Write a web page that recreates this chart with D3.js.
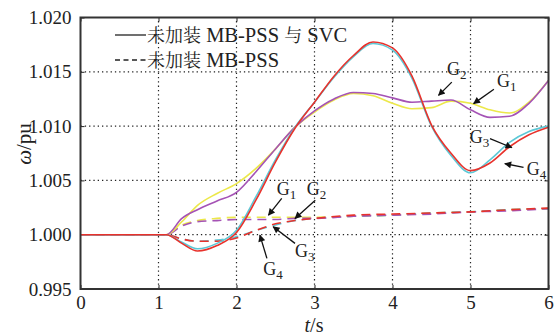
<!DOCTYPE html>
<html>
<head>
<meta charset="utf-8">
<script src="https://cdn.jsdelivr.net/npm/d3@7"></script>
<style>
  html, body { margin: 0; padding: 0; background: #fff; }
  svg { display: block; }
  svg text { font-family: "Liberation Serif", "DejaVu Serif", serif; }
</style>
</head>
<body>
<svg id="chart" width="554" height="335"></svg>
<script>
// ---------------- data ----------------
const xTicks = [0, 1, 2, 3, 4, 5, 6];
const yTicks = [0.995, 1.000, 1.005, 1.010, 1.015, 1.020];

// with MB-PSS and SVC (solid)
const tSolid = [0, 1, 1.1, 1.3, 1.5, 1.75, 2, 2.25, 2.5, 2.75, 3, 3.25, 3.5, 3.75, 4, 4.25, 4.5, 4.75, 5, 5.25, 5.5, 5.75, 6];
const g1Solid = [1, 1, 1, 1.0012, 1.0027, 1.0038, 1.0047, 1.0061, 1.0079, 1.0099, 1.0113, 1.0124, 1.0130, 1.0128, 1.0121, 1.0116, 1.0117, 1.0123, 1.0121, 1.0115, 1.0112, 1.0122, 1.0142];
const g2Solid = [1, 1, 1, 1.0015, 1.0023, 1.0031, 1.0039, 1.0058, 1.0079, 1.0099, 1.0114, 1.0125, 1.0131, 1.0130, 1.0126, 1.0122, 1.0123, 1.0124, 1.0115, 1.0108, 1.0109, 1.0121, 1.0142];
const g3Solid = [1, 1, 1, 0.9993, 0.9987, 0.9992, 1.0004, 1.0035, 1.0069, 1.0099, 1.0122, 1.0145, 1.0164, 1.0176, 1.0170, 1.0144, 1.0100, 1.0073, 1.0057, 1.0069, 1.0085, 1.0095, 1.0100];
const g4Solid = [1, 1, 1, 0.9992, 0.9985, 0.9990, 1.0002, 1.0032, 1.0067, 1.0098, 1.0122, 1.0146, 1.0165, 1.01775, 1.0172, 1.0146, 1.0101, 1.0075, 1.0059, 1.0066, 1.0081, 1.0092, 1.0099];

// with MB-PSS only (dashed)
const tDashed = [0, 1, 1.1, 1.3, 1.5, 1.75, 2, 2.25, 2.5, 2.75, 3, 3.5, 4, 4.5, 5, 5.5, 6];
const g1Dashed = [1, 1, 1, 1.0009, 1.0013, 1.0015, 1.0016, 1.0016, 1.0016, 1.0016, 1.0016, 1.0017, 1.0018, 1.0020, 1.0021, 1.0023, 1.0024];
const g2Dashed = [1, 1, 1, 1.0008, 1.0012, 1.0013, 1.0014, 1.0014, 1.0014, 1.0015, 1.0015, 1.0017, 1.0018, 1.0019, 1.0021, 1.0022, 1.0024];
const g3Dashed = [1, 1, 1, 0.9996, 0.9994, 0.9995, 0.9998, 1.0004, 1.0009, 1.0013, 1.0015, 1.0017, 1.0018, 1.0020, 1.0021, 1.0023, 1.0024];
const g4Dashed = [1, 1, 1, 0.9996, 0.9994, 0.9994, 0.9997, 1.0004, 1.0010, 1.0013, 1.0015, 1.0018, 1.0019, 1.0020, 1.0021, 1.0023, 1.00245];

const seriesNames = ["G1", "G2", "G3", "G4"];
const legendLabels = ["未加装 MB-PSS 与 SVC", "未加装 MB-PSS"];

// annotation labels (generator, label position, arrow tail, arrow head) in data units
const annoGen = ["1", "2", "3", "4", "1", "2", "3", "4"];
const annoLabel = [[5.34, 1.01359], [4.70, 1.01467], [4.99, 1.00842], [5.72, 1.00548],
                   [2.515, 1.00364], [2.90, 1.00364], [2.75, 0.99797], [2.344, 0.99629]];
const annoTail = [[5.30, 1.01340], [4.76, 1.01405], [5.25, 1.00885], [5.68, 1.00619],
                  [2.58, 1.00334], [3.01, 1.00318], [2.75, 0.99920], [2.39, 0.99782]];
const annoHead = [[5.04, 1.01207], [4.59, 1.01283], [5.53, 1.00802], [5.44, 1.00655],
                  [2.41, 1.00180], [2.75, 1.00150], [2.47, 1.00073], [2.30, 0.99996]];

// ---------------- drawing ----------------
const colors = { G1: "#ece84a", G2: "#a553b5", G3: "#5cc8d6", G4: "#e8322c" };
const serif = '"Liberation Serif", "DejaVu Serif", serif';
const cjk = '"Noto Serif CJK SC", "Noto Sans CJK SC", serif';

const svg = d3.select("#chart");
const x = d3.scaleLinear().domain([0, 6]).range([80.5, 548.5]);
const y = d3.scaleLinear().domain([0.995, 1.020]).range([289, 17.5]);

// grid
const grid = svg.append("g").attr("stroke", "#222").attr("stroke-width", 1.2).attr("stroke-dasharray", "1.3,3");
xTicks.slice(1, -1).forEach(t => grid.append("line").attr("x1", x(t)).attr("x2", x(t)).attr("y1", y(0.995)).attr("y2", y(1.020)));
yTicks.slice(1, -1).forEach(v => grid.append("line").attr("x1", x(0)).attr("x2", x(6)).attr("y1", y(v)).attr("y2", y(v)));

// axes
const fmt = d3.format(".3f");
const ax = svg.append("g").attr("transform", `translate(0,${y(0.995)})`)
  .call(d3.axisBottom(x).tickValues(xTicks).tickSize(-4).tickPadding(7).tickFormat(d3.format("d")));
const axTop = svg.append("g").attr("transform", `translate(0,${y(1.020)})`)
  .call(d3.axisTop(x).tickValues(xTicks).tickSize(-4).tickFormat(""));
const ay = svg.append("g").attr("transform", `translate(${x(0)},0)`)
  .call(d3.axisLeft(y).tickValues(yTicks).tickSize(-4).tickPadding(9).tickFormat(fmt));
const ayR = svg.append("g").attr("transform", `translate(${x(6)},0)`)
  .call(d3.axisRight(y).tickValues(yTicks).tickSize(-4).tickFormat(""));
[ax, axTop, ay, ayR].forEach(g => {
  g.attr("font-family", serif).attr("font-size", 19);
  g.select(".domain").remove();
  g.selectAll(".tick line").attr("stroke", "#222").attr("stroke-width", 1);
  g.selectAll("text").attr("fill", "#222").attr("font-family", serif).style("font-family", serif).style("font-size", "19px");
});
ax.selectAll("text").attr("dy", "0.71em");

// lines
const line = d3.line().x(d => x(d[0])).y(d => y(d[1])).curve(d3.curveMonotoneX);
const zip = (ts, vs) => ts.map((t, i) => [t, vs[i]]);

const dashedSets = [["G1", g1Dashed], ["G3", g3Dashed], ["G2", g2Dashed], ["G4", g4Dashed]];
dashedSets.forEach(([n, vs]) => {
  svg.append("path").attr("d", line(zip(tDashed, vs))).attr("fill", "none")
    .attr("stroke", colors[n]).attr("stroke-width", 1.6).attr("stroke-dasharray", "9,6");
});
const solidSets = [["G1", g1Solid], ["G2", g2Solid], ["G3", g3Solid], ["G4", g4Solid]];
solidSets.forEach(([n, vs]) => {
  svg.append("path").attr("d", line(zip(tSolid, vs))).attr("fill", "none")
    .attr("stroke", colors[n]).attr("stroke-width", 1.6);
});

// frame
svg.append("rect").attr("x", x(0)).attr("y", y(1.020)).attr("width", x(6) - x(0)).attr("height", y(0.995) - y(1.020))
  .attr("fill", "none").attr("stroke", "#333").attr("stroke-width", 2);

// axis titles
const yt = svg.append("text").attr("transform", `translate(31,144) rotate(-90)`).attr("text-anchor", "middle")
  .attr("font-family", serif).style("font-size", "21px").attr("fill", "#222");
yt.append("tspan").style("font-style", "italic").text("ω");
yt.append("tspan").text("/pu");
const xt = svg.append("text").attr("x", 314).attr("y", 332).attr("text-anchor", "middle")
  .attr("font-family", serif).style("font-size", "20px").attr("fill", "#222");
xt.append("tspan").style("font-style", "italic").text("t");
xt.append("tspan").text("/s");

// legend
const legY = [35, 60];
legendLabels.forEach((lab, i) => {
  svg.append("line").attr("x1", 115).attr("x2", 146).attr("y1", legY[i]).attr("y2", legY[i])
    .attr("stroke", "#222").attr("stroke-width", 1.3).attr("stroke-dasharray", i === 0 ? null : "5,3.5");
  const tx = svg.append("text").attr("x", 147).attr("y", legY[i] + 6.5).attr("fill", "#222")
    .attr("font-family", serif).style("font-size", "20.5px");
  const parts = lab.match(/[\u4e00-\u9fff]+|[^\u4e00-\u9fff]+/g);
  parts.forEach(p => {
    const isC = /[\u4e00-\u9fff]/.test(p);
    tx.append("tspan").text(p).style("font-family", isC ? cjk : serif)
      .style("font-size", isC ? "18px" : "20.5px");
  });
});

// annotations
svg.append("defs").append("marker").attr("id", "arr").attr("viewBox", "0 0 10 10")
  .attr("refX", 9).attr("refY", 5).attr("markerWidth", 10).attr("markerHeight", 7)
  .attr("markerUnits", "userSpaceOnUse").attr("orient", "auto")
  .append("path").attr("d", "M0,0L10,5L0,10Z").attr("fill", "#111");
annoGen.forEach((g, i) => {
  svg.append("line").attr("x1", x(annoTail[i][0])).attr("y1", y(annoTail[i][1]))
    .attr("x2", x(annoHead[i][0])).attr("y2", y(annoHead[i][1]))
    .attr("stroke", "#111").attr("stroke-width", 1.3).attr("marker-end", "url(#arr)");
  const t = svg.append("text").attr("x", x(annoLabel[i][0])).attr("y", y(annoLabel[i][1]))
    .attr("font-family", serif).style("font-size", "18px").attr("fill", "#222");
  t.append("tspan").text("G");
  t.append("tspan").text(g).attr("dy", 4).style("font-size", "13px");
});
</script>
</body>
</html>
